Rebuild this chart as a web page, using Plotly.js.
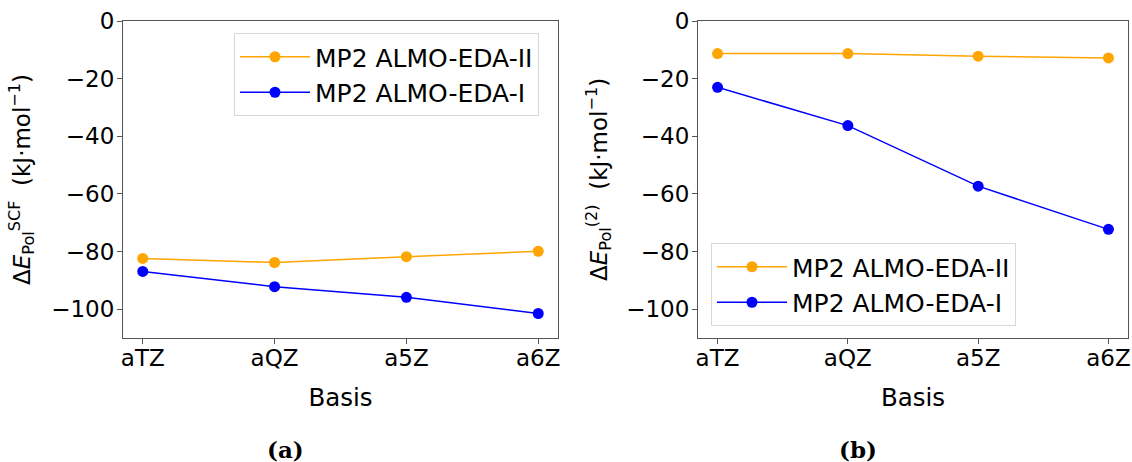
<!DOCTYPE html>
<html>
<head>
<meta charset="utf-8">
<script src="https://cdn.plot.ly/plotly-3.0.1.min.js"></script>
<style>html,body{margin:0;padding:0;background:#fff;}#chart{width:1132px;height:462px;}</style>
</head>
<body>
<div id="chart"></div>
<script>
const basis = ["aTZ", "aQZ", "a5Z", "a6Z"];
const scfEdaII = [-82.4, -83.8, -81.8, -79.9];
const scfEdaI = [-86.9, -92.2, -95.9, -101.5];
const mp2EdaII = [-11.3, -11.3, -12.2, -12.8];
const mp2EdaI = [-23.0, -36.3, -57.3, -72.3];
const seriesNames = ["MP2 ALMO-EDA-II", "MP2 ALMO-EDA-I"];
const yTicks = [0, -20, -40, -60, -80, -100];

const FONT = "DejaVu Sans, sans-serif";
const ORANGE = "#FFA500", BLUE = "#0000FF";
const W = 1132, H = 462;
const FS = 23;

function tr(y, name, color, xa, ya, leg, grp) {
  return {
    x: basis, y: y, name: name, type: "scatter", mode: "lines+markers",
    xaxis: xa, yaxis: ya, legend: leg, legendgroup: grp,
    line: {color: color, width: 1.5},
    marker: {color: color, size: 11}
  };
}

const data = [
  tr(scfEdaII, seriesNames[0], ORANGE, "x", "y", "legend", "a1"),
  tr(scfEdaI, seriesNames[1], BLUE, "x", "y", "legend", "a2"),
  tr(mp2EdaII, seriesNames[0], ORANGE, "x2", "y2", "legend2", "b1"),
  tr(mp2EdaI, seriesNames[1], BLUE, "x2", "y2", "legend2", "b2")
];

function xax(dom, anchor) {
  return {
    domain: dom, anchor: anchor, type: "category", range: [-0.15, 3.15],
    showline: true, mirror: true, linecolor: "#555", linewidth: 1,
    ticks: "outside", ticklen: 5, tickcolor: "#555", showgrid: false, zeroline: false,
    tickfont: {family: FONT, size: FS, color: "#000"}, ticklabelstandoff: -6,
    title: {text: "Basis", font: {family: FONT, size: 24.5, color: "#000"}, standoff: 19},
    automargin: false
  };
}
function yax(anchor) {
  return {
    domain: [1 - 338 / H, 1 - 21 / H], anchor: anchor, range: [-110, 0],
    tickvals: yTicks, showline: true, mirror: true, linecolor: "#555", linewidth: 1,
    ticks: "outside", ticklen: 5, tickcolor: "#555", showgrid: false, zeroline: false,
    tickfont: {family: FONT, size: FS, color: "#000"}, ticklabelstandoff: -2, automargin: false
  };
}

function legendCfg(x, y) {
  return {
    x: x, y: y, xanchor: "left", yanchor: "top", xref: "paper", yref: "paper",
    bgcolor: "rgba(255,255,255,0.8)", bordercolor: "#d8d8d8", borderwidth: 1,
    font: {family: FONT, size: 25, color: "#000"}, tracegroupgap: 0,
    itemwidth: 70
  };
}

const layout = {
  width: W, height: H, margin: {l: 0, r: 0, t: 0, b: 0},
  paper_bgcolor: "#fff", plot_bgcolor: "#fff",
  xaxis: xax([123 / W, 558 / W], "y"),
  yaxis: yax("x"),
  xaxis2: xax([698 / W, 1128 / W], "y2"),
  yaxis2: yax("x2"),
  legend: legendCfg(234 / W, 1 - 33 / H),
  legend2: legendCfg(711 / W, 1 - 243 / H),
  annotations: [
    {text: "Δ<i>E</i><sub>Pol</sub><sup>SCF</sup>  (kJ·mol<sup>−1</sup>)", textangle: -90,
     xref: "paper", yref: "paper", x: 21 / W, y: 1 - 180 / H, xanchor: "center", yanchor: "middle",
     showarrow: false, font: {family: FONT, size: 23, color: "#000"}},
    {text: "Δ<i>E</i><sub>Pol</sub><sup>(2)</sup>  (kJ·mol<sup>−1</sup>)", textangle: -90,
     xref: "paper", yref: "paper", x: 598 / W, y: 1 - 180 / H, xanchor: "center", yanchor: "middle",
     showarrow: false, font: {family: FONT, size: 23, color: "#000"}},
    {text: "<b>(a)</b>", xref: "paper", yref: "paper", x: 285 / W, y: 1 - 449 / H,
     xanchor: "center", yanchor: "middle",
     showarrow: false, font: {family: "DejaVu Serif, serif", size: 23, color: "#000"}},
    {text: "<b>(b)</b>", xref: "paper", yref: "paper", x: 858 / W, y: 1 - 449 / H,
     xanchor: "center", yanchor: "middle",
     showarrow: false, font: {family: "DejaVu Serif, serif", size: 23, color: "#000"}}
  ],
  showlegend: true
};

Plotly.newPlot("chart", data, layout, {displayModeBar: false, staticPlot: true});
</script>
</body>
</html>
